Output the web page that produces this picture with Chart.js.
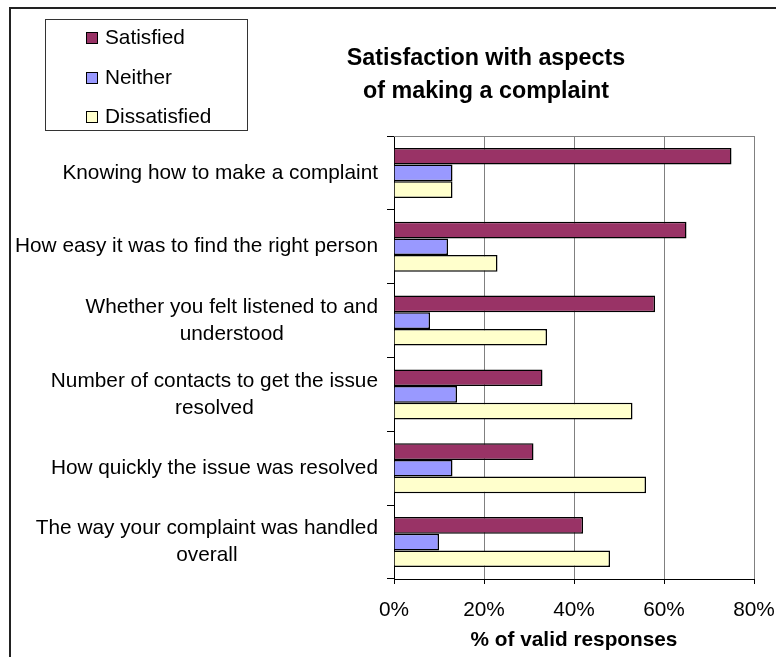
<!DOCTYPE html>
<html>
<head>
<meta charset="utf-8">
<script src="https://cdn.jsdelivr.net/npm/chart.js@4.4.1/dist/chart.umd.min.js"></script>
<style>
  body { margin: 0; background: #fff; }
  canvas { display: block; }
</style>
</head>
<body>
<canvas id="complaint-chart" width="776" height="657"></canvas>
<script>
const ctx = document.getElementById("complaint-chart").getContext("2d");

const FONT = "'Liberation Sans', Arial, sans-serif";
const TEXT_SIZE = 20.8;

// category labels, one entry per wrapped line
const aspects = [
	["Knowing how to make a complaint"],
	["How easy it was to find the right person"],
	["Whether you felt listened to and", "understood"],
	["Number of contacts to get the issue", "resolved"],
	["How quickly the issue was resolved"],
	["The way your complaint was handled", "overall"],
];

// % of valid responses
const satisfied = [75, 65, 58, 33, 31, 42];
const neither = [13, 12, 8, 14, 13, 10];
const dissatisfied = [13, 23, 34, 53, 56, 48];

const percentTicks = [0, 20, 40, 60, 80];
const titleLines = ["Satisfaction with aspects", "of making a complaint"];

// outer frame, white background and the grey top edge of the plot
const frame = {
	id: "frame",
	beforeDraw(chart) {
		const c = chart.ctx;
		c.save();
		c.fillStyle = "#fff";
		c.fillRect(0, 0, chart.width, chart.height);
		c.strokeStyle = "#222";
		c.lineWidth = 2;
		c.strokeRect(10, 8, chart.width + 10, chart.height + 10);
		c.restore();
	},
	beforeDatasetsDraw(chart) {
		const c = chart.ctx;
		const a = chart.chartArea;
		const y = Math.round(a.top) + 0.5;
		c.save();
		c.strokeStyle = "#808080";
		c.lineWidth = 1;
		c.beginPath();
		c.moveTo(a.left, y);
		c.lineTo(a.right, y);
		c.stroke();
		c.restore();
	},
};

// y labels: block right-aligned to the axis, lines centred inside the block
const categoryLabels = {
	id: "categoryLabels",
	afterDraw(chart) {
		const c = chart.ctx;
		const yScale = chart.scales.y;
		const right = chart.chartArea.left - 16;
		const lineHeight = 27;
		c.save();
		c.font = TEXT_SIZE + "px " + FONT;
		c.fillStyle = "#000";
		c.textAlign = "center";
		c.textBaseline = "middle";
		chart.data.labels.forEach((lines, i) => {
			const w = Math.max(...lines.map((l) => c.measureText(l).width));
			const cx = right - w / 2;
			const cy = yScale.getPixelForValue(i);
			lines.forEach((l, j) => {
				c.fillText(l, cx, cy + (j - (lines.length - 1) / 2) * lineHeight);
			});
		});
		c.restore();
	},
};

const titleBlock = {
	id: "titleBlock",
	afterDraw(chart) {
		const c = chart.ctx;
		c.save();
		c.font = "bold 23.3px " + FONT;
		c.fillStyle = "#000";
		c.textAlign = "center";
		c.textBaseline = "middle";
		titleLines.forEach((t, i) => c.fillText(t, 486, 59 + i * 33));
		c.restore();
	},
};

const legendBox = {
	id: "legendBox",
	afterDraw(chart) {
		const c = chart.ctx;
		c.save();
		c.strokeStyle = "#333";
		c.lineWidth = 1;
		c.strokeRect(45.5, 19.5, 202, 111);
		c.font = TEXT_SIZE + "px " + FONT;
		c.textAlign = "left";
		c.textBaseline = "middle";
		chart.data.datasets.forEach((ds, i) => {
			const cy = Math.round(38 + i * 39.5);
			c.fillStyle = ds.backgroundColor;
			c.fillRect(86, cy - 6, 12, 12);
			c.strokeStyle = "#000";
			c.strokeRect(86.5, cy - 5.5, 11, 11);
			c.fillStyle = "#000";
			c.fillText(ds.label, 105, cy);
		});
		c.restore();
	},
};

const data = {
	labels: aspects,
	datasets: [
		{ label: "Satisfied", data: satisfied, backgroundColor: "#993366" },
		{ label: "Neither", data: neither, backgroundColor: "#9999FF" },
		{ label: "Dissatisfied", data: dissatisfied, backgroundColor: "#FFFFCC" },
	],
};

const config = {
	type: "bar",
	data: data,
	options: {
		indexAxis: "y",
		responsive: false,
		animation: false,
		devicePixelRatio: 1,
		layout: { padding: { top: 136, right: 22, bottom: 0, left: 0 } },
		datasets: {
			bar: {
				categoryPercentage: 0.677,
				barPercentage: 1,
				borderColor: "#000",
				borderWidth: 1.5,
			},
		},
		plugins: {
			legend: { display: false },
			title: { display: false },
			tooltip: { enabled: false },
		},
		scales: {
			x: {
				min: 0,
				max: 80,
				afterBuildTicks: (s) => {
					s.ticks = percentTicks.map((v) => ({ value: v }));
				},
				afterFit: (s) => {
					s.height = 78;
					s.paddingLeft = 0;
					s.paddingRight = 0;
				},
				ticks: {
					padding: 14,
					color: "#000",
					font: { family: FONT, size: TEXT_SIZE },
					callback: (v) => v + "%",
				},
				grid: {
					color: (c) => (c.tick && c.tick.value === 0 ? "rgba(0,0,0,0)" : "#808080"),
					tickColor: "#000",
					tickLength: 5,
				},
				border: { color: "#000", width: 1 },
				title: {
					display: true,
					text: "% of valid responses",
					color: "#000",
					font: { family: FONT, size: TEXT_SIZE, weight: "bold" },
					padding: { top: 0, bottom: 4 },
				},
			},
			y: {
				afterFit: (s) => {
					s.width = 394;
				},
				ticks: { display: false },
				grid: {
					drawOnChartArea: false,
					color: "#000",
					tickLength: 7,
				},
				border: { color: "#000", width: 1 },
			},
		},
	},
	plugins: [frame, categoryLabels, titleBlock, legendBox],
};

const chart = new Chart(ctx, config);
</script>
</body>
</html>
